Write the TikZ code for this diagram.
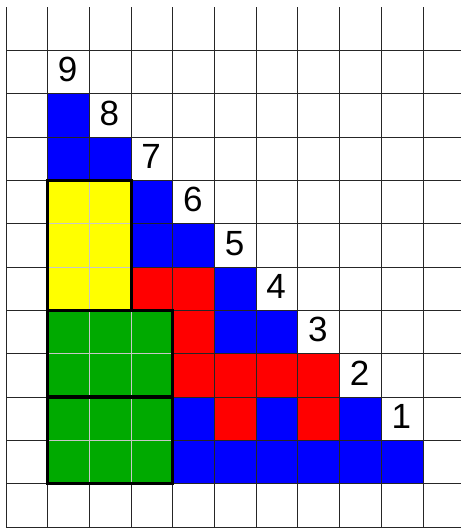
\documentclass[tikz,border=0pt]{standalone}
\usepackage{fontspec}
\setmainfont{Liberation Sans}
\definecolor{cblue}{RGB}{0,0,255}
\definecolor{cred}{RGB}{255,0,0}
\definecolor{cyellow}{RGB}{255,255,0}
\definecolor{cgreen}{RGB}{0,170,0}
\tikzset{
  gridline/.style={draw=black!85,line width=0.9pt},
  innerline/.style={draw=black!22,line width=0.8pt},
  thickbox/.style={draw=black,line width=3.2pt},
  numlabel/.style={inner sep=0pt,font=\fontsize{35}{35}\selectfont}
}
\begin{document}
\begin{tikzpicture}[x=41.7pt,y=-43.33pt]
\useasboundingbox (-0.1439,-0.1615) rectangle (10.9113,12.0240);
% blue cells
\foreach \c/\r in {1/2,1/3,2/3,3/4,3/5,4/5,5/6,5/7,6/7,4/9,6/9,8/9,4/10,5/10,6/10,7/10,8/10,9/10}
  \fill[cblue] (\c,\r) rectangle ++(1,1);
% red cells
\foreach \c/\r in {3/6,4/6,4/7,4/8,5/8,6/8,7/8,5/9,7/9}
  \fill[cred] (\c,\r) rectangle ++(1,1);
% grid
\foreach \c in {0,...,10}
  \draw[gridline] (\c,0) -- (\c,12);
\foreach \r in {1,...,12}
  \draw[gridline] (0,\r) -- (10.9113,\r);
% yellow block
\fill[cyellow] (1,4) rectangle (3,7);
\draw[innerline] (2,4) -- (2,7) (1,5) -- (3,5) (1,6) -- (3,6);
\draw[thickbox] (1,4) rectangle (3,7);
% green blocks
\fill[cgreen] (1,7) rectangle (4,11);
\draw[innerline] (2,7) -- (2,11) (3,7) -- (3,11) (1,8) -- (4,8) (1,10) -- (4,10);
\draw[thickbox] (1,7) rectangle (4,9);
\draw[thickbox] (1,9) rectangle (4,11);
% labels
\foreach \n/\c in {9/1,8/2,7/3,6/4,5/5,4/6,3/7,2/8,1/9}
  \node[numlabel] (n\n) at (\c+0.48,\c+0.45) {\n};
\end{tikzpicture}
\end{document}
